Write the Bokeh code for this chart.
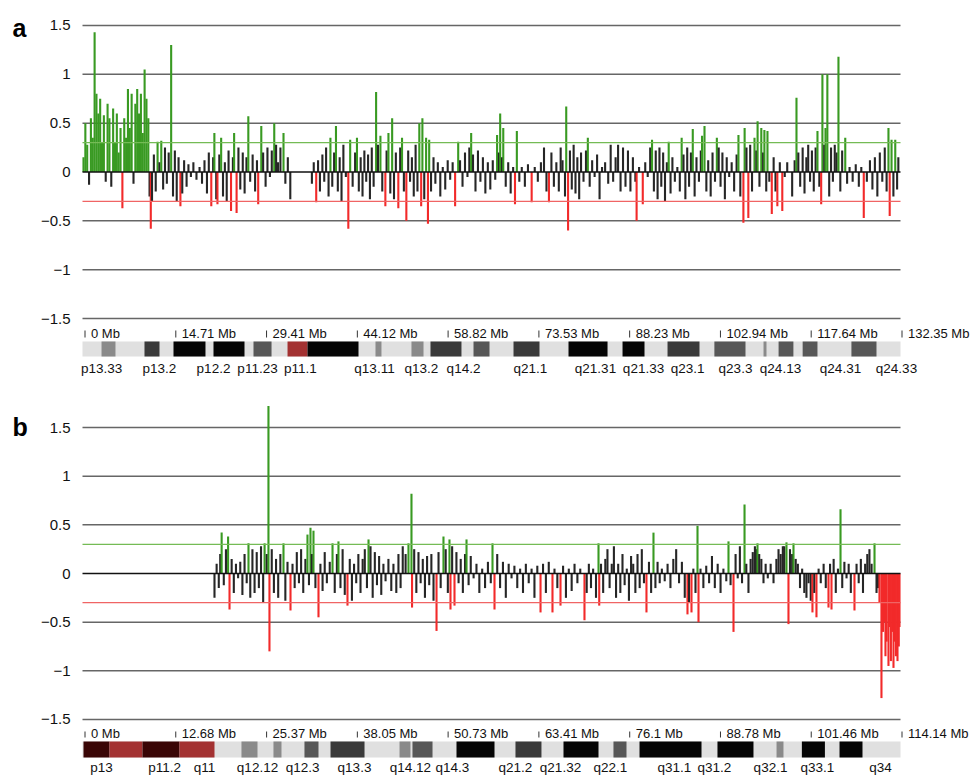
from bokeh.plotting import figure
from bokeh.layouts import column
from bokeh.models import ColumnDataSource, Range1d
from bokeh.core.properties import value
from bokeh.embed import file_html
from bokeh.resources import INLINE

# ---------------- DATA ----------------
# y axis
y_ticks = [-1.5, -1, -0.5, 0, 0.5, 1, 1.5]
y_tick_labels = ["\u22121.5", "\u22121", "\u22120.5", "0", "0.5", "1", "1.5"]
gain_threshold = 0.3
loss_threshold = -0.3

# ---- panel a : chromosome 12 (132.35 Mb) ----
a_length = 132.35
a_mb_ticks = [0, 14.71, 29.41, 44.12, 58.82, 73.53, 88.23, 102.94, 117.64, 132.35]
a_mb_labels = ["0 Mb", "14.71 Mb", "29.41 Mb", "44.12 Mb", "58.82 Mb", "73.53 Mb",
               "88.23 Mb", "102.94 Mb", "117.64 Mb", "132.35 Mb"]
a_gain_segments = [(0.0, 10.6)]
a_loss_segments = []

a_probes_1 = [(0.0, 0.15), (0.3, 0.5), (0.6, 0.28), (0.9, -0.13), (1.2, 0.55), (1.5, 0.35),
              (1.8, 1.43), (2.1, 0.8), (2.4, 0.6), (2.7, 0.75), (3.0, 0.3), (3.3, 0.58),
              (3.6, -0.1), (3.9, 0.7), (4.2, 0.55), (4.5, -0.15), (4.8, 0.65), (5.1, 0.3),
              (5.4, 0.6), (5.7, 0.2), (6.0, 0.45), (6.3, -0.37), (6.6, 0.55), (6.9, 0.35),
              (7.2, 0.85), (7.5, 0.45), (7.8, 0.8), (8.1, -0.12), (8.4, 0.7), (8.7, 0.85),
              (9.0, 0.6), (9.3, 0.8), (9.6, 0.4), (9.9, 1.05), (10.2, 0.75), (10.5, 0.55)]
a_probes_2 = [(10.7, -0.25), (10.9, -0.58), (11.1, -0.3), (11.4, 0.18), (11.7, -0.2), (12.0, 0.31),
              (12.3, 0.1), (12.6, 0.32), (12.9, -0.18), (13.2, 0.25), (13.5, -0.12), (13.8, 0.2),
              (14.2, 1.3), (14.5, -0.25), (14.8, 0.22), (15.1, -0.3), (15.4, 0.15), (15.7, -0.35),
              (16.0, -0.22), (16.3, 0.12), (16.7, -0.15), (17.0, 0.08), (17.4, -0.05), (17.8, 0.1),
              (18.3, -0.08), (18.8, 0.05), (19.2, -0.12), (19.6, 0.12), (20.0, -0.22), (20.3, 0.2),
              (20.7, -0.35), (21.0, 0.15), (21.2, 0.4), (21.5, -0.28), (21.7, -0.33), (22.0, 0.18),
              (22.3, 0.35), (22.6, -0.25), (22.9, 0.1), (23.2, -0.3), (23.5, 0.22), (23.9, -0.4),
              (24.2, 0.15), (24.4, 0.4), (24.8, -0.42), (25.1, 0.25), (25.4, -0.18), (25.8, 0.2),
              (26.1, -0.22), (26.4, 0.15), (26.7, 0.57), (27.0, -0.1), (27.4, 0.18), (27.8, -0.2),
              (28.1, 0.12), (28.3, -0.33), (28.8, 0.47), (29.1, 0.2), (29.5, -0.15), (29.8, 0.25),
              (30.2, -0.05), (30.5, 0.22), (30.9, 0.5), (31.2, 0.28), (31.5, 0.1), (31.9, 0.25),
              (32.4, 0.4), (32.7, -0.12), (33.1, 0.15), (33.5, -0.28)]
a_probes_3 = [(37.0, -0.12), (37.3, 0.1), (37.7, -0.31), (38.0, 0.12), (38.3, -0.2), (38.7, 0.18),
              (39.0, -0.1), (39.3, 0.25), (39.7, -0.25), (40.0, 0.35), (40.3, -0.15), (40.6, 0.2),
              (40.9, 0.47), (41.2, -0.2), (41.5, 0.15), (41.8, -0.3), (42.1, 0.28), (42.5, -0.05),
              (42.9, -0.58), (43.2, 0.33), (43.6, -0.15), (44.0, 0.2), (44.3, 0.35), (44.6, -0.2),
              (44.9, 0.15), (45.2, -0.25), (45.5, 0.22), (45.8, -0.1), (46.1, 0.18), (46.4, -0.28),
              (46.7, 0.25), (47.0, -0.15), (47.4, 0.82), (47.7, 0.28), (48.1, 0.37), (48.4, -0.2),
              (48.9, -0.35), (49.1, 0.22), (49.4, 0.4), (49.7, -0.22), (50.0, 0.55), (50.3, -0.28),
              (50.6, 0.2), (51.0, -0.37), (51.3, 0.25), (51.6, 0.35), (51.9, -0.2), (52.3, -0.5),
              (52.6, 0.22), (52.9, -0.1), (53.2, 0.15), (53.5, -0.25), (53.8, 0.28), (54.1, -0.2),
              (54.4, 0.5), (54.7, -0.35), (54.9, 0.55), (55.2, -0.28), (55.5, 0.35), (55.8, -0.53),
              (56.0, 0.33), (56.3, -0.2), (56.7, 0.15), (57.0, -0.12), (57.4, 0.1), (57.8, -0.25),
              (58.2, 0.05), (58.6, -0.18), (59.0, 0.12), (59.4, -0.08), (59.8, 0.1), (60.2, -0.35),
              (60.7, 0.31), (61.0, 0.12), (61.4, -0.15), (61.8, 0.2), (62.2, -0.05), (62.5, 0.25),
              (62.8, 0.4), (63.1, 0.18), (63.5, -0.2), (63.9, 0.22), (64.3, -0.1), (64.7, 0.15),
              (65.1, -0.22), (65.5, 0.1), (65.9, -0.18), (66.3, 0.12), (66.7, -0.08), (67.0, 0.38),
              (67.3, 0.2), (67.5, 0.6), (67.8, 0.15), (68.0, 0.45), (68.4, -0.15), (68.8, 0.1),
              (69.2, -0.22), (69.6, 0.05), (69.9, -0.33), (70.2, 0.42), (70.6, -0.1), (71.0, 0.05),
              (71.5, -0.15), (72.0, 0.08), (72.6, -0.31), (73.1, 0.05), (73.6, -0.1), (74.1, 0.1),
              (74.6, 0.25), (75.0, -0.2), (75.4, -0.31), (75.8, 0.2), (76.2, -0.15), (76.6, 0.1),
              (77.0, -0.2), (77.3, 0.25), (77.6, 0.12), (78.0, -0.25), (78.2, 0.67), (78.5, -0.6),
              (78.8, 0.22), (79.1, -0.18), (79.4, 0.28), (79.7, -0.22), (80.0, 0.15), (80.3, -0.28),
              (80.6, 0.2), (81.0, -0.1), (81.4, 0.22), (81.7, 0.35), (82.0, -0.15), (82.4, 0.12),
              (82.8, -0.05), (83.2, 0.18), (83.6, -0.28), (84.0, 0.05), (84.5, 0.1), (85.0, -0.12),
              (85.4, 0.28), (85.8, -0.1), (86.2, 0.15), (86.6, 0.28), (87.0, -0.2), (87.4, 0.25),
              (87.8, -0.15), (88.2, 0.22)]
a_probes_4 = [(88.6, -0.2), (89.0, 0.15), (89.4, -0.1), (89.6, -0.5), (90.0, 0.05), (90.6, -0.33),
              (91.0, 0.1), (91.4, -0.05), (91.8, 0.25), (92.1, 0.33), (92.4, -0.2), (92.7, 0.22),
              (93.0, -0.28), (93.3, 0.25), (93.6, -0.15), (93.9, 0.2), (94.2, -0.3), (94.5, 0.1),
              (94.8, 0.31), (95.1, -0.22), (95.4, 0.15), (95.8, -0.1), (96.2, 0.05), (96.6, -0.2),
              (96.9, 0.35), (97.2, 0.18), (97.5, -0.28), (97.8, 0.25), (98.1, -0.15), (98.4, 0.2),
              (98.7, 0.44), (99.0, -0.25), (99.3, 0.15), (99.7, -0.1), (100.0, 0.22), (100.2, 0.37),
              (100.6, 0.47), (100.9, -0.2), (101.2, 0.12), (101.6, -0.25), (101.9, 0.2), (102.3, -0.1),
              (102.6, 0.35), (102.9, 0.25), (103.2, -0.15), (103.5, 0.2), (103.9, -0.28), (104.2, 0.15),
              (104.6, -0.05), (105.0, 0.1), (105.4, -0.2), (105.8, 0.18), (106.1, 0.38), (106.4, -0.25),
              (106.9, -0.52), (107.1, 0.45), (107.4, 0.25), (107.7, -0.47), (108.0, 0.28), (108.3, -0.2),
              (108.7, 0.35), (109.0, 0.22), (109.2, 0.52), (109.5, -0.15), (109.8, 0.45), (110.1, 0.2),
              (110.3, 0.43), (110.6, -0.2), (110.8, 0.42), (111.1, -0.1), (111.5, -0.43), (111.8, 0.15),
              (112.1, -0.2), (112.4, -0.35), (112.8, 0.1), (113.2, -0.4), (113.6, -0.05), (114.0, 0.1),
              (114.8, -0.25), (115.2, 0.12), (115.5, 0.76), (115.8, 0.2), (116.1, -0.15), (116.5, 0.25),
              (116.8, -0.22), (117.1, 0.15), (117.4, 0.28), (117.7, -0.1), (118.0, 0.22), (118.3, -0.2),
              (118.6, 0.25), (118.9, 0.42), (119.2, -0.15), (119.5, -0.33), (119.7, 1.0), (120.0, 0.28),
              (120.2, 0.45), (120.5, 1.0), (120.8, -0.25), (121.1, 0.25), (121.4, -0.1), (121.7, 0.28),
              (122.0, 0.2), (122.3, 1.18), (122.6, -0.2), (122.9, 0.22), (123.4, 0.35), (123.7, -0.12),
              (124.1, 0.05), (124.6, -0.1), (125.1, 0.08), (125.6, -0.15), (126.0, 0.05), (126.4, -0.47),
              (126.9, -0.1), (127.4, 0.12), (127.8, -0.18), (128.2, 0.15), (128.6, -0.25), (129.0, 0.2),
              (129.4, -0.1), (129.8, 0.25), (130.1, -0.2), (130.4, 0.45), (130.6, -0.45), (130.9, 0.33),
              (131.2, -0.25), (131.5, 0.33), (131.8, -0.18), (132.0, 0.15)]

a_band_start = [2.92, 9.88, 14.58, 21.06, 27.54, 33.05, 36.29, 47.30, 53.13, 56.21, 63.18,
                69.66, 78.57, 87.32, 94.61, 102.2, 110.16, 112.6, 116.5, 124.4]
a_band_end = [5.18, 12.31, 19.76, 26.08, 30.46, 36.29, 44.55, 48.27, 55.08, 61.23, 65.77,
              73.87, 84.89, 90.88, 99.79, 107.24, 110.64, 115.0, 118.9, 128.46]
a_band_stain = ["gpos50", "gpos75", "gpos100", "gpos100", "gpos66", "acen", "gpos100", "gpos50",
                "gpos50", "gpos75", "gpos66", "gpos75", "gpos100", "gpos100", "gpos75", "gpos66",
                "gpos50", "gpos66", "gpos66", "gpos66"]
a_band_names = ["p13.33", "p13.2", "p12.2", "p11.23", "p11.1", "q13.11", "q13.2", "q14.2",
                "q21.1", "q21.31", "q21.33", "q23.1", "q23.3", "q24.13", "q24.31", "q24.33"]
a_band_name_pos = [2.92, 12.31, 21.06, 28.19, 35.15, 47.14, 54.75, 61.56, 72.41, 82.94,
                   90.72, 97.85, 105.62, 112.91, 122.63, 131.7]

# ---- panel b : chromosome 13 (114.14 Mb) ----
b_length = 114.14
b_mb_ticks = [0, 12.68, 25.37, 38.05, 50.73, 63.41, 76.1, 88.78, 101.46, 114.14]
b_mb_labels = ["0 Mb", "12.68 Mb", "25.37 Mb", "38.05 Mb", "50.73 Mb", "63.41 Mb",
               "76.1 Mb", "88.78 Mb", "101.46 Mb", "114.14 Mb"]
b_gain_segments = []
b_loss_segments = [(111.1, 114.14)]

b_probes_1 = [(18.3, -0.25), (18.6, 0.1), (18.9, -0.15), (19.1, 0.2), (19.3, 0.42), (19.6, -0.12),
              (19.9, 0.25), (20.2, 0.38), (20.4, -0.37), (20.7, 0.15), (21.0, -0.2), (21.3, 0.1),
              (21.6, -0.05), (21.9, 0.12), (22.2, -0.22), (22.5, 0.2), (22.8, -0.1), (23.05, 0.31),
              (23.3, -0.25), (23.6, 0.25), (23.9, -0.2), (24.2, 0.22), (24.5, -0.15), (24.8, 0.28),
              (25.1, -0.3), (25.3, 0.31), (25.6, 0.2), (25.84, 1.72), (25.98, -0.8), (26.3, 0.25),
              (26.6, -0.2), (26.9, 0.15), (27.2, -0.25), (27.5, 0.2), (27.94, 0.31), (28.2, -0.28),
              (28.5, 0.12), (28.92, -0.38), (29.2, 0.1), (29.5, -0.15), (29.8, 0.22), (30.1, -0.1),
              (30.4, 0.25), (30.7, -0.2), (31.0, 0.15), (31.29, 0.4), (31.5, -0.12), (31.71, 0.47),
              (31.9, 0.2), (32.13, 0.44), (32.4, -0.15), (32.83, -0.45), (33.1, 0.1), (33.4, -0.18),
              (33.7, 0.22), (34.0, -0.1), (34.4, 0.12), (34.79, 0.31), (35.1, -0.2), (35.4, 0.2),
              (35.62, 0.33), (35.9, -0.15), (36.2, 0.25), (36.5, -0.22), (36.88, -0.33), (37.2, 0.15),
              (37.5, -0.28), (37.8, 0.1), (38.1, -0.1), (38.4, 0.2), (38.7, -0.2), (39.0, 0.15),
              (39.3, 0.25), (39.6, -0.15), (39.82, 0.35), (40.1, 0.28), (40.4, -0.25), (40.7, 0.22),
              (41.0, -0.12), (41.3, 0.18), (41.6, -0.22), (41.9, 0.1), (42.2, -0.08), (42.6, 0.15),
              (43.0, -0.18), (43.3, 0.1), (43.7, -0.2), (44.0, 0.2), (44.3, -0.15), (44.6, 0.28),
              (45.0, 0.2), (45.4, 0.31), (45.82, 0.82), (45.9, -0.35), (46.2, 0.25), (46.5, -0.2),
              (46.8, 0.22), (47.1, -0.1), (47.4, 0.15), (47.7, -0.25), (48.0, 0.18), (48.3, -0.12),
              (48.6, 0.2), (48.9, -0.28), (49.32, -0.59), (49.6, 0.22), (49.9, -0.15), (50.29, 0.38),
              (50.6, 0.25), (50.9, -0.2), (51.13, 0.35), (51.27, -0.37), (51.5, 0.28), (51.83, -0.33),
              (52.1, 0.22), (52.4, -0.1), (52.7, 0.15), (53.0, -0.2), (53.3, 0.2), (53.51, 0.35),
              (53.8, -0.12), (54.1, 0.18), (54.5, -0.05), (54.9, 0.1), (55.3, -0.2), (55.7, 0.05),
              (56.1, -0.15), (56.5, 0.12), (56.9, -0.1), (57.14, 0.31), (57.42, -0.37), (57.8, 0.2)]
b_probes_2 = [(58.2, -0.15), (58.6, 0.12), (59.0, -0.25), (59.4, 0.1), (59.8, -0.05), (60.2, 0.08),
              (60.6, -0.15), (61.0, 0.05), (61.4, -0.2), (61.8, 0.1), (62.2, -0.1), (62.6, 0.05),
              (63.0, -0.25), (63.4, 0.08), (63.85, -0.4), (64.2, 0.1), (64.6, -0.2), (65.0, 0.12),
              (65.52, -0.4), (65.8, 0.05), (66.2, -0.15), (66.64, -0.33), (67.0, 0.08), (67.4, -0.25),
              (67.8, 0.05), (68.2, -0.18), (68.6, 0.1), (69.0, -0.1), (69.4, 0.05), (69.99, -0.48),
              (70.3, -0.2), (70.6, 0.1), (70.9, -0.15), (71.2, 0.05), (71.6, -0.25), (71.95, 0.31),
              (72.05, -0.33), (72.3, 0.1), (72.6, -0.2), (72.9, 0.15), (73.2, 0.25), (73.5, -0.15),
              (73.8, 0.1), (74.1, 0.28), (74.4, -0.25), (74.7, 0.1), (75.0, -0.2), (75.3, 0.2),
              (75.6, -0.12), (75.9, 0.05), (76.2, -0.28), (76.5, 0.18), (76.8, 0.1), (77.1, -0.2),
              (77.4, 0.2), (77.7, -0.15), (78.0, 0.25), (78.3, -0.1), (78.65, -0.4), (79.0, 0.12),
              (79.3, -0.2), (79.63, 0.42), (79.9, -0.15), (80.2, 0.12), (80.5, -0.1), (80.8, 0.05),
              (81.2, -0.08), (81.6, 0.1), (82.0, -0.15), (82.4, 0.15), (82.8, 0.25), (83.2, -0.1),
              (83.6, 0.12), (84.0, -0.25), (84.38, -0.42), (84.6, -0.3), (84.94, -0.4), (85.2, 0.05),
              (85.5, -0.2), (85.78, 0.49), (85.92, -0.5), (86.2, 0.05), (86.6, -0.15), (87.0, 0.08),
              (87.4, -0.1), (87.8, 0.18), (88.2, -0.15), (88.6, 0.1), (89.0, -0.2), (89.4, 0.05),
              (89.8, -0.08), (90.11, 0.33), (90.4, -0.12), (90.81, -0.6), (91.1, 0.2), (91.4, -0.05),
              (91.7, 0.28), (92.0, -0.1), (92.35, 0.71), (92.6, 0.1), (92.9, -0.2), (93.2, 0.15),
              (93.5, 0.22), (93.8, 0.28), (94.0, 0.25), (94.16, 0.31), (94.4, 0.2), (94.7, 0.15),
              (95.0, -0.1), (95.3, 0.1), (95.6, -0.05), (96.0, 0.1), (96.4, -0.1), (96.8, 0.15),
              (97.1, 0.25), (97.4, 0.2), (97.7, 0.28), (97.9, 0.28), (98.21, 0.32), (98.49, -0.52),
              (98.7, 0.25), (99.0, 0.2), (99.19, 0.31), (99.5, 0.15), (99.8, 0.1), (100.1, -0.15),
              (100.4, 0.05), (100.7, -0.2), (101.0, -0.25), (101.3, -0.1), (101.6, -0.28), (101.84, -0.4),
              (102.1, -0.2), (102.4, -0.45), (102.7, 0.05), (103.0, -0.1), (103.4, 0.1), (103.7, -0.15),
              (104.08, -0.35), (104.3, 0.1), (104.5, -0.37), (104.8, 0.15), (105.1, -0.2), (105.4, 0.05),
              (105.76, 0.66), (106.0, -0.15), (106.3, 0.12), (106.6, -0.05), (106.9, 0.1), (107.2, -0.2),
              (107.71, -0.38), (108.0, 0.1), (108.3, -0.1), (108.6, 0.15), (108.9, -0.2), (109.2, 0.1),
              (109.5, 0.2), (109.8, 0.25), (110.1, 0.1), (110.51, 0.31), (110.79, -0.2)]
b_probes_3 = [(111.0, -0.15), (111.2, -0.3), (111.48, -1.28), (111.7, -0.6), (111.9, -0.5),
              (112.04, -0.85), (112.2, -0.7), (112.46, -0.95), (112.6, -0.55), (112.8, -0.9),
              (113.0, -0.6), (113.16, -0.97), (113.3, -0.7), (113.5, -0.85), (113.72, -0.9),
              (113.9, -0.75), (114.0, -0.55)]

b_band_start = [0.0, 3.63, 8.24, 13.41, 22.07, 26.54, 30.87, 34.51, 44.15, 45.96, 52.11,
                60.35, 67.06, 74.04, 77.68, 88.57, 96.82, 100.36, 105.62]
b_band_end = [3.63, 8.24, 13.41, 18.30, 24.31, 27.66, 32.83, 39.26, 45.68, 48.76, 57.42,
              63.98, 71.95, 75.86, 86.34, 93.60, 97.79, 103.58, 108.83]
b_band_stain = ["gvar", "stalk", "gvar", "acen", "gpos50", "gpos50", "gpos66", "gpos75", "gpos50",
                "gpos66", "gpos100", "gpos75", "gpos100", "gpos66", "gpos100", "gpos100", "gpos50",
                "gpos100", "gpos100"]
b_band_names = ["p13", "p11.2", "q11", "q12.12", "q12.3", "q13.3", "q14.12", "q14.3", "q21.2",
                "q21.32", "q22.1", "q31.1", "q31.2", "q32.1", "q33.1", "q34"]
b_band_name_pos = [2.51, 11.32, 16.90, 24.31, 30.60, 37.86, 45.68, 51.55, 60.35, 66.64,
                   73.62, 82.56, 88.15, 95.98, 102.54, 111.34]

# ---------------- STYLE ----------------
FONT = value("Liberation Sans")
STAIN_COLORS = {"gpos100": "#050505", "gpos75": "#3a3a3a", "gpos66": "#575757",
                "gpos50": "#8a8a8a", "acen": "#a33232", "stalk": "#a33232", "gvar": "#3a0606"}
GREEN = "#399a22"
RED = "#f22a2a"
BLACK = "#262626"


def in_segments(x, segs):
    return any(s <= x <= e for s, e in segs)


def build_panel(letter, probes, gains, losses, length, mb_ticks, mb_labels,
                band_start, band_end, band_stain, band_names, band_name_pos,
                height, zero_px, unit_px, px_per_mb, geom):
    x0_px = 83
    p = figure(width=971, height=height, output_backend="svg", toolbar_location=None,
               x_axis_location=None, y_axis_location=None, min_border=0,
               x_range=Range1d(-x0_px / px_per_mb, (971 - x0_px) / px_per_mb),
               y_range=Range1d(-(height - zero_px) / unit_px, zero_px / unit_px))
    p.outline_line_color = None
    p.grid.visible = False
    p.background_fill_color = "white"
    p.border_fill_color = "white"

    def ydata(px):
        return (zero_px - px) / unit_px

    def xdata(px):
        return (px - x0_px) / px_per_mb

    x_lo = xdata(82)
    # grid lines
    gl = [t for t in y_ticks if t != 0]
    p.segment(x0=[x_lo] * len(gl), x1=[length] * len(gl), y0=gl, y1=gl,
              line_color="#666666", line_width=1.5)

    # probes
    xs, ys, cols = [], [], []
    for x, v in probes:
        xs.append(x)
        ys.append(v)
        if v > gain_threshold:
            c = GREEN
        elif v < loss_threshold:
            c = RED
        elif v > 0 and in_segments(x, gains):
            c = GREEN
        elif v < 0 and in_segments(x, losses):
            c = RED
        else:
            c = BLACK
        cols.append(c)
    src = ColumnDataSource(dict(x=xs, y=ys, c=cols, z=[0] * len(xs)))
    p.segment(x0="x", x1="x", y0="z", y1="y", line_color="c", line_width=2.1, source=src)

    # zero and threshold lines
    p.segment(x0=[x_lo], x1=[length], y0=[0], y1=[0], line_color="#111111", line_width=1.3)
    p.segment(x0=[x_lo], x1=[length], y0=[gain_threshold], y1=[gain_threshold],
              line_color="#74bb55", line_width=1.3)
    p.segment(x0=[x_lo], x1=[length], y0=[loss_threshold], y1=[loss_threshold],
              line_color="#f06464", line_width=1.3)

    # y tick labels
    p.text(x=[xdata(70)] * len(y_ticks), y=y_ticks, text=y_tick_labels, text_font=FONT,
           text_font_size="15px", text_align="right", text_baseline="middle", text_color="#111111")

    # panel letter
    p.text(x=[xdata(12)], y=[ydata(geom["letter"])], text=[letter], text_font=FONT,
           text_font_size="25px", text_font_style="bold", text_align="left",
           text_baseline="alphabetic", text_color="#000000")

    # Mb ticks
    tick_x = [t + 1.5 / px_per_mb for t in mb_ticks]
    p.segment(x0=tick_x, x1=tick_x, y0=[ydata(geom["tick_top"])] * len(mb_ticks),
              y1=[ydata(geom["tick_bot"])] * len(mb_ticks), line_color="#333333", line_width=1)
    p.text(x=tick_x, y=[ydata(geom["mb_text"])] * len(mb_ticks), text=mb_labels,
           text_font=FONT, text_font_size="13px", text_align="left", text_baseline="middle",
           x_offset=6, text_color="#111111")

    # ideogram
    top = ydata(geom["ideo_top"])
    bot = ydata(geom["ideo_bot"])
    p.quad(left=[x_lo], right=[length], top=[top], bottom=[bot], fill_color="#e0e0e0",
           line_color=None)
    p.quad(left=band_start, right=band_end, top=[top] * len(band_start),
           bottom=[bot] * len(band_start), fill_color=[STAIN_COLORS[s] for s in band_stain],
           line_color=None)
    p.text(x=band_name_pos, y=[ydata(geom["band_text"])] * len(band_names), text=band_names,
           text_font=FONT, text_font_size="13.5px", text_align="center", text_baseline="middle",
           text_color="#111111")
    return p


pa = build_panel("a", a_probes_1 + a_probes_2 + a_probes_3 + a_probes_4,
                 a_gain_segments, a_loss_segments, a_length, a_mb_ticks, a_mb_labels,
                 a_band_start, a_band_end, a_band_stain, a_band_names, a_band_name_pos,
                 height=395, zero_px=171.5, unit_px=97.67, px_per_mb=817 / a_length,
                 geom=dict(letter=27, tick_top=330, tick_bot=337, mb_text=332.5,
                           ideo_top=341, ideo_bot=356, band_text=368))
pb = build_panel("b", b_probes_1 + b_probes_2 + b_probes_3,
                 b_gain_segments, b_loss_segments, b_length, b_mb_ticks, b_mb_labels,
                 b_band_start, b_band_end, b_band_stain, b_band_names, b_band_name_pos,
                 height=380, zero_px=178, unit_px=97.33, px_per_mb=817 / b_length,
                 geom=dict(letter=31, tick_top=336, tick_bot=342, mb_text=337.5,
                           ideo_top=346, ideo_bot=362, band_text=372))

layout = column(pa, pb, spacing=0)
open("out.html", "w").write(file_html(layout, INLINE))
